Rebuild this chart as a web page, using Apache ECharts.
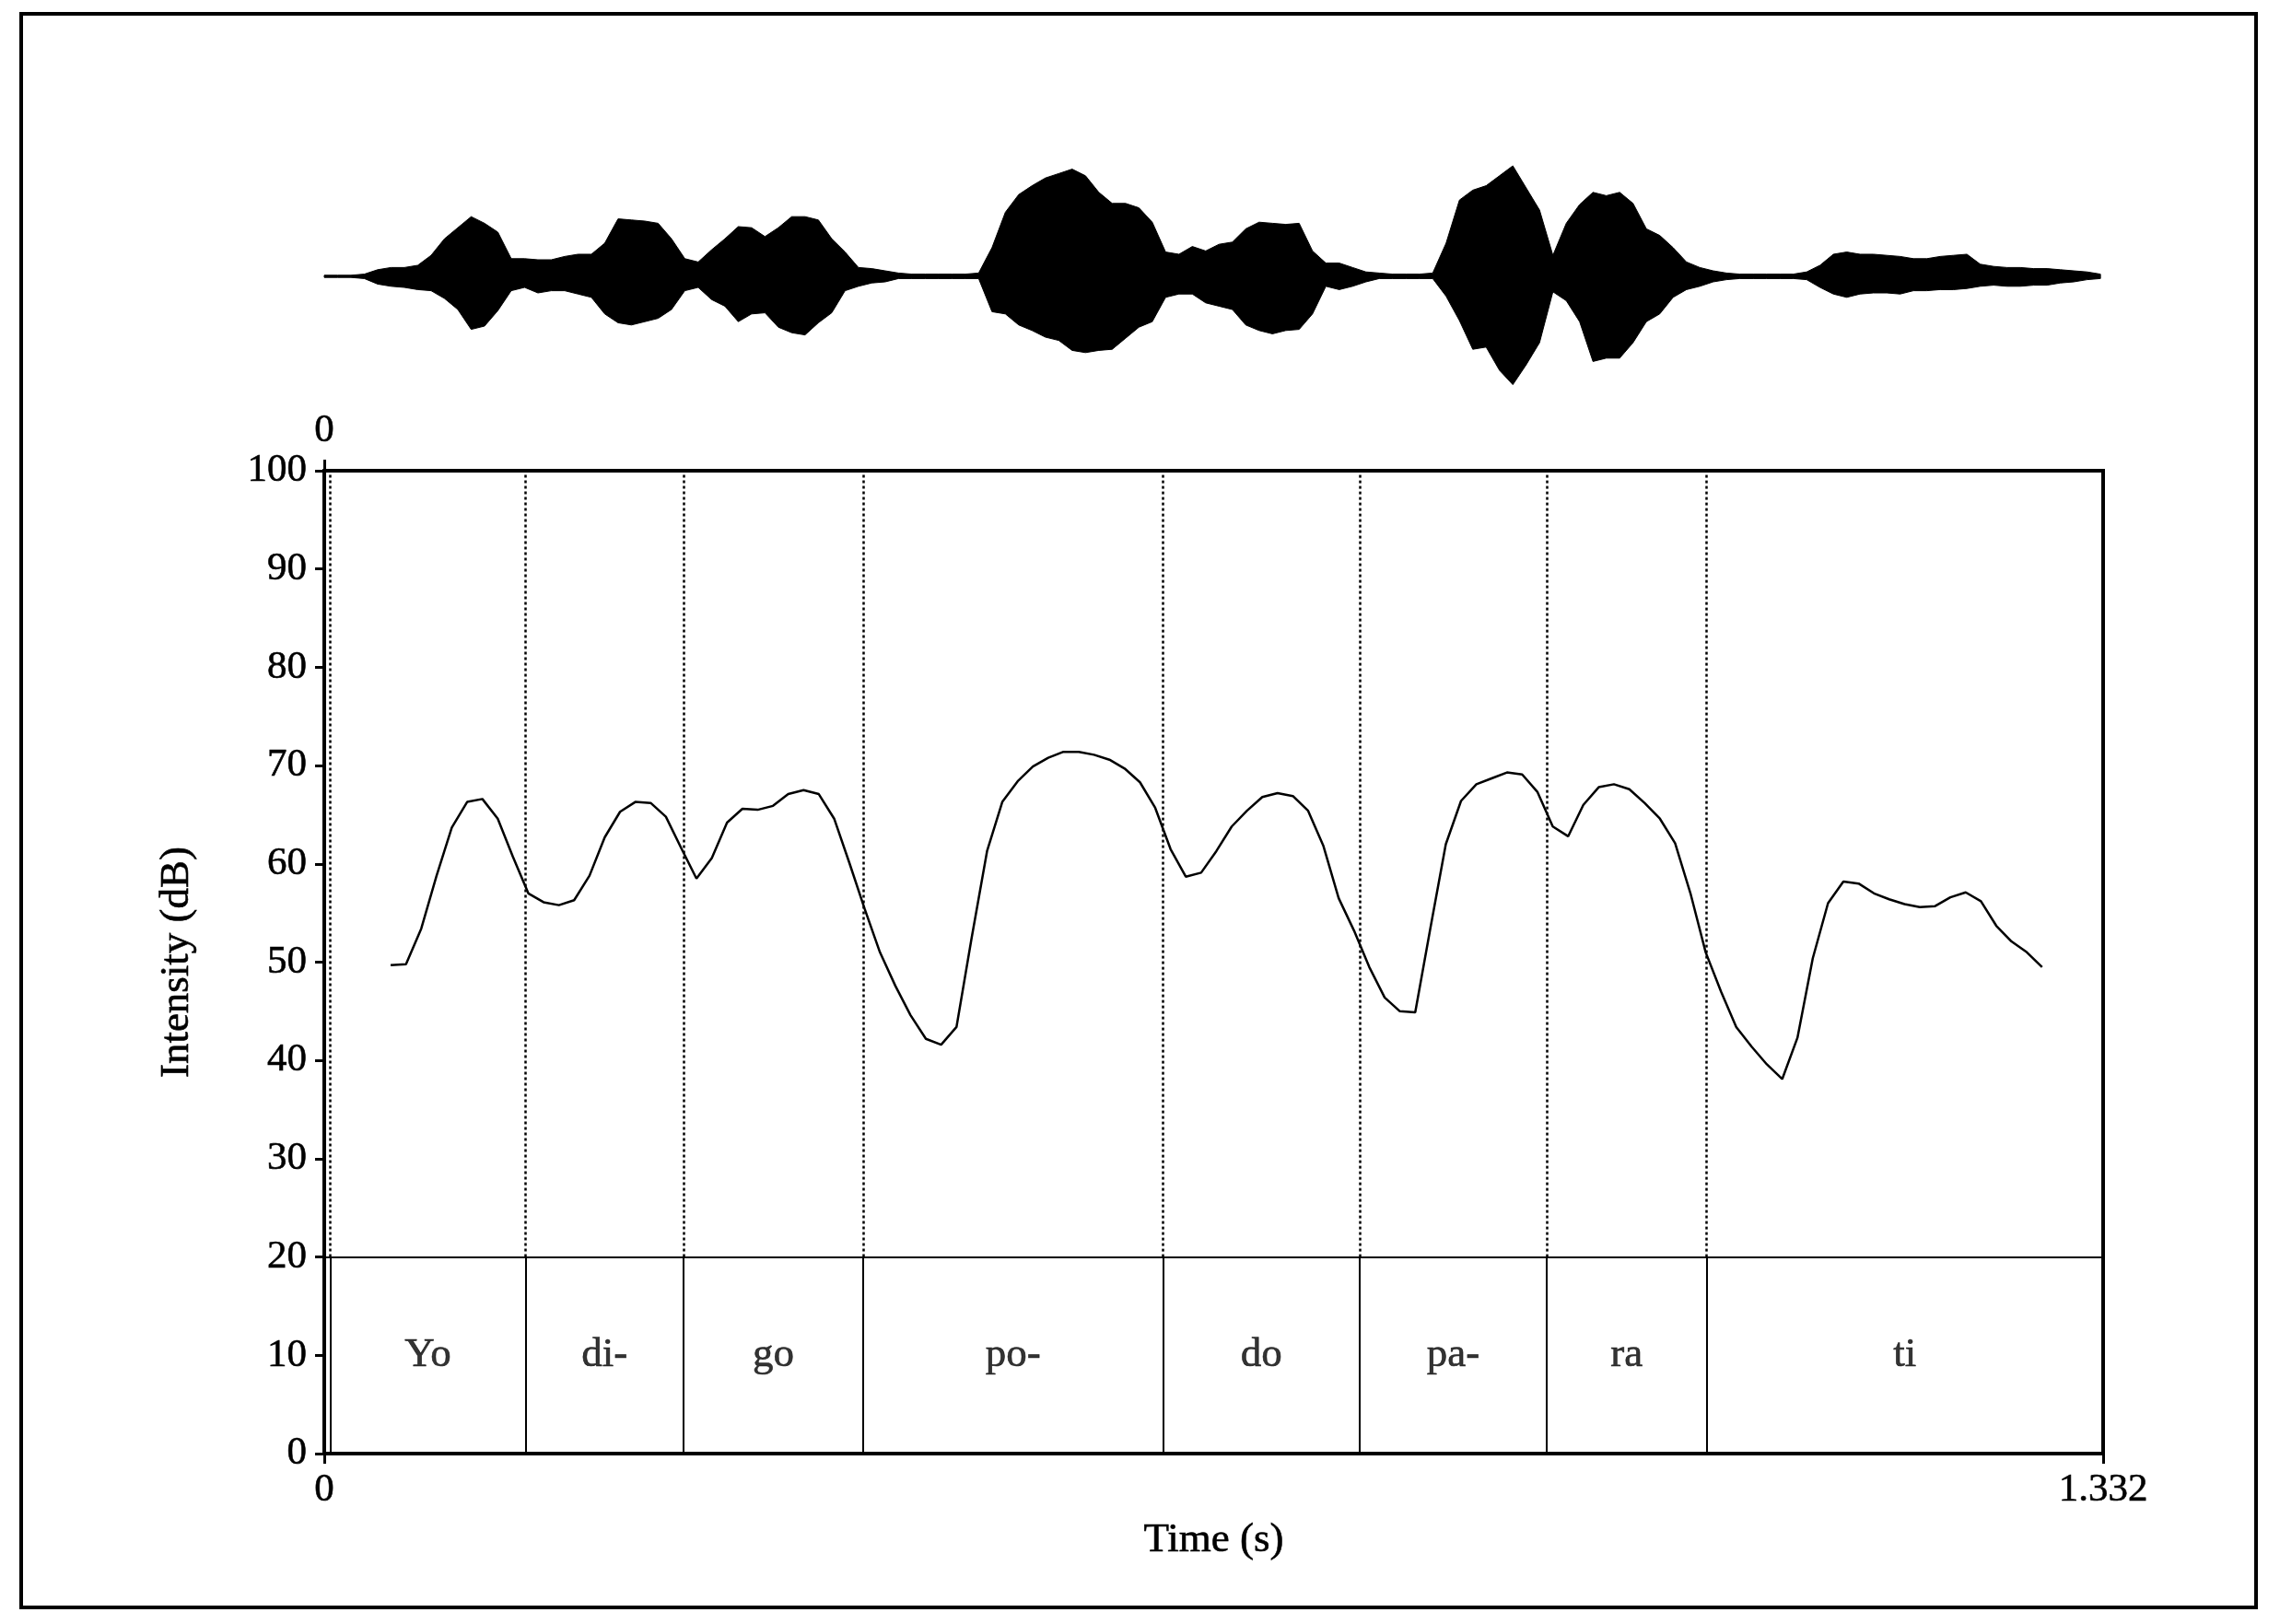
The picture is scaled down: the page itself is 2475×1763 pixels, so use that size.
<!DOCTYPE html>
<html>
<head>
<meta charset="utf-8">
<script src="https://cdn.jsdelivr.net/npm/echarts/dist/echarts.min.js"></script>
<style>
  html, body { margin: 0; padding: 0; background: #fff; }
  #chart { width: 2475px; height: 1763px; }
</style>
</head>
<body>
<div id="chart"></div>
<script>
// waveform envelope (normalised amplitude), one sample every 10 ms
var waveTime = [0.00,0.01,0.02,0.03,0.04,0.05,0.06,0.07,0.08,0.09,0.10,0.11,0.12,0.13,0.14,0.15,0.16,0.17,0.18,0.19,
  0.20,0.21,0.22,0.23,0.24,0.25,0.26,0.27,0.28,0.29,0.30,0.31,0.32,0.33,0.34,0.35,0.36,0.37,0.38,0.39,
  0.40,0.41,0.42,0.43,0.44,0.45,0.46,0.47,0.48,0.49,0.50,0.51,0.52,0.53,0.54,0.55,0.56,0.57,0.58,0.59,
  0.60,0.61,0.62,0.63,0.64,0.65,0.66,0.67,0.68,0.69,0.70,0.71,0.72,0.73,0.74,0.75,0.76,0.77,0.78,0.79,
  0.80,0.81,0.82,0.83,0.84,0.85,0.86,0.87,0.88,0.89,0.90,0.91,0.92,0.93,0.94,0.95,0.96,0.97,0.98,0.99,
  1.00,1.01,1.02,1.03,1.04,1.05,1.06,1.07,1.08,1.09,1.10,1.11,1.12,1.13,1.14,1.15,1.16,1.17,1.18,1.19,
  1.20,1.21,1.22,1.23,1.24,1.25,1.26,1.27,1.28,1.29,1.30,1.31,1.32,1.33]
var waveTop = [0.01,0.01,0.01,0.02,0.06,0.08,0.08,0.10,0.19,0.34,0.44,0.54,0.48,0.40,0.16,0.16,0.15,0.15,0.18,0.20,
  0.20,0.30,0.52,0.51,0.50,0.48,0.34,0.16,0.13,0.24,0.34,0.45,0.44,0.36,0.44,0.54,0.54,0.51,0.34,0.22,
  0.08,0.07,0.05,0.03,0.02,0.02,0.02,0.02,0.02,0.03,0.26,0.58,0.74,0.82,0.89,0.93,0.97,0.91,0.76,0.66,
  0.66,0.62,0.49,0.22,0.20,0.27,0.23,0.29,0.31,0.43,0.49,0.48,0.47,0.48,0.23,0.12,0.12,0.08,0.04,0.03,
  0.02,0.02,0.02,0.03,0.30,0.69,0.78,0.82,0.91,1.00,0.80,0.60,0.19,0.48,0.65,0.76,0.73,0.76,0.66,0.43,
  0.37,0.26,0.13,0.08,0.05,0.03,0.02,0.02,0.02,0.02,0.02,0.04,0.10,0.20,0.22,0.20,0.20,0.19,0.18,0.16,
  0.16,0.18,0.19,0.20,0.11,0.09,0.08,0.08,0.07,0.07,0.06,0.05,0.04,0.02]
var waveBottom = [-0.01,-0.01,-0.01,-0.02,-0.07,-0.09,-0.10,-0.12,-0.13,-0.20,-0.30,-0.48,-0.45,-0.31,-0.13,-0.10,-0.15,-0.13,-0.13,-0.16,
  -0.19,-0.34,-0.42,-0.44,-0.41,-0.38,-0.30,-0.13,-0.10,-0.21,-0.27,-0.41,-0.34,-0.33,-0.46,-0.51,-0.53,-0.42,-0.33,-0.13,
  -0.09,-0.06,-0.05,-0.02,-0.02,-0.02,-0.02,-0.02,-0.02,-0.02,-0.32,-0.34,-0.44,-0.49,-0.55,-0.58,-0.67,-0.69,-0.67,-0.66,
  -0.56,-0.46,-0.41,-0.19,-0.16,-0.16,-0.24,-0.27,-0.30,-0.44,-0.49,-0.52,-0.49,-0.48,-0.34,-0.09,-0.12,-0.09,-0.05,-0.02,
  -0.02,-0.02,-0.02,-0.02,-0.18,-0.40,-0.66,-0.64,-0.85,-0.98,-0.80,-0.60,-0.14,-0.22,-0.41,-0.77,-0.74,-0.74,-0.60,-0.41,
  -0.34,-0.19,-0.12,-0.09,-0.05,-0.03,-0.02,-0.02,-0.02,-0.02,-0.02,-0.03,-0.10,-0.16,-0.19,-0.16,-0.15,-0.15,-0.16,-0.13,
  -0.13,-0.12,-0.12,-0.11,-0.09,-0.08,-0.09,-0.09,-0.08,-0.08,-0.06,-0.05,-0.03,-0.02]

// intensity contour [time (s), dB]
var intensity = [[0.0497,49.7],[0.0612,49.8],[0.0726,53.4],[0.0841,58.8],[0.0955,63.7],[0.1070,66.3],[0.1184,66.6],
  [0.1299,64.6],[0.1413,60.7],[0.1528,57.0],[0.1642,56.1],[0.1757,55.8],[0.1871,56.3],[0.1986,58.8],[0.2100,62.7],
  [0.2215,65.3],[0.2329,66.3],[0.2444,66.2],[0.2558,64.8],[0.2673,61.6],[0.2787,58.5],[0.2902,60.6],[0.3016,64.2],
  [0.3131,65.6],[0.3245,65.5],[0.3360,65.9],[0.3474,67.1],[0.3589,67.5],[0.3703,67.1],[0.3818,64.6],[0.3932,60.1],
  [0.4047,55.4],[0.4161,51.0],[0.4276,47.6],[0.4390,44.6],[0.4505,42.2],[0.4619,41.6],[0.4734,43.4],[0.4848,52.5],
  [0.4963,61.3],[0.5077,66.3],[0.5192,68.4],[0.5306,69.9],[0.5421,70.8],[0.5535,71.4],[0.5650,71.4],[0.5764,71.1],
  [0.5879,70.6],[0.5993,69.7],[0.6108,68.3],[0.6222,65.7],[0.6337,61.5],[0.6451,58.7],[0.6566,59.1],[0.6680,61.3],
  [0.6795,63.8],[0.6909,65.4],[0.7024,66.8],[0.7138,67.2],[0.7253,66.9],[0.7367,65.4],[0.7482,61.8],[0.7596,56.5],
  [0.7711,53.2],[0.7825,49.5],[0.7940,46.4],[0.8054,45.0],[0.8169,44.9],[0.8283,53.5],[0.8398,62.0],[0.8512,66.4],
  [0.8627,68.1],[0.8741,68.7],[0.8856,69.3],[0.8970,69.1],[0.9085,67.3],[0.9199,63.8],[0.9314,62.8],[0.9428,66.0],
  [0.9543,67.8],[0.9657,68.1],[0.9772,67.6],[0.9886,66.2],[1.0001,64.6],[1.0115,62.1],[1.0230,57.0],[1.0344,51.0],
  [1.0459,47.0],[1.0573,43.4],[1.0688,41.4],[1.0802,39.6],[1.0917,38.1],[1.1031,42.3],[1.1146,50.4],[1.1260,56.0],
  [1.1375,58.2],[1.1489,58.0],[1.1604,57.0],[1.1718,56.4],[1.1833,55.9],[1.1947,55.6],[1.2062,55.7],[1.2176,56.6],
  [1.2291,57.1],[1.2405,56.2],[1.2520,53.7],[1.2634,52.1],[1.2749,51.0],[1.2863,49.5]]

// syllable tier
var boundaries = [0.0046, 0.1507, 0.2690, 0.4035, 0.6281, 0.7753, 0.9153, 1.0351, 1.332]
var syllables = ['Yo', 'di-', 'go', 'po-', 'do', 'pa-', 'ra', 'ti']

var tEnd = 1.332
var yTicks = [0, 100, 10]  // min, max, step
var tierTop = 20
var tierMid = 10

var FONT = '"Liberation Serif", "Times New Roman", serif'

var chart = echarts.init(document.getElementById('chart'), null, { renderer: 'canvas' })

var sylData = syllables.map(function (s, i) {
  return [(boundaries[i] + boundaries[i + 1]) / 2, tierMid, s]
})

var dotted = boundaries.slice(0, -1).map(function (b) {
  return [{ coord: [b, tierTop] }, { coord: [b, yTicks[1]] }]
})
var solid = boundaries.slice(0, -1).map(function (b) {
  return [{ coord: [b, 0] }, { coord: [b, tierTop] }]
})
solid.push([{ coord: [0, tierTop] }, { coord: [tEnd, tierTop] }])

// slightly heavier text, the original is a hard black raster
var ink = { color: '#000', textBorderColor: '#000', textBorderWidth: 0.6 }
var labelStyle = Object.assign({ fontFamily: FONT, fontSize: 43 }, ink)
var nameStyle = Object.assign({ fontFamily: FONT, fontSize: 45 }, ink)

var option = {
  animation: false,
  backgroundColor: '#fff',
  graphic: [{
    type: 'rect',
    shape: { x: 23, y: 15, width: 2426, height: 1730 },
    style: { fill: 'none', stroke: '#000', lineWidth: 4 }
  }],
  grid: [
    { left: 352, right: 192, top: 180, height: 240 },
    { left: 352, right: 192, top: 511, bottom: 185, show: true, borderColor: '#000', borderWidth: 4 }
  ],
  xAxis: [
    { gridIndex: 0, type: 'value', min: 0, max: tEnd, show: false },
    {
      gridIndex: 1, type: 'value', min: 0, max: tEnd, position: 'bottom',
      axisLine: { lineStyle: { color: '#000', width: 4 } },
      axisTick: { length: 11, lineStyle: { color: '#000', width: 3 }, customValues: [0, tEnd] },
      axisLabel: Object.assign({ margin: 18, customValues: [0, tEnd] }, labelStyle),
      splitLine: { show: false },
      name: 'Time (s)', nameLocation: 'middle', nameGap: 72,
      nameTextStyle: nameStyle
    },
    {
      gridIndex: 1, type: 'value', min: 0, max: tEnd, position: 'top',
      axisLine: { show: false },
      axisTick: { length: 12, lineStyle: { color: '#000', width: 3 }, customValues: [0] },
      axisLabel: Object.assign({ margin: 22, customValues: [0] }, labelStyle),
      splitLine: { show: false }
    }
  ],
  yAxis: [
    { gridIndex: 0, type: 'value', min: -1, max: 1, show: false },
    {
      gridIndex: 1, type: 'value', min: yTicks[0], max: yTicks[1], interval: yTicks[2],
      axisLine: { show: true, lineStyle: { color: '#000', width: 4 } },
      axisTick: { show: true, length: 10, lineStyle: { color: '#000', width: 3 } },
      axisLabel: Object.assign({ margin: 19 }, labelStyle),
      splitLine: { show: false },
      name: 'Intensity (dB)', nameLocation: 'middle', nameGap: 137,
      nameTextStyle: nameStyle
    }
  ],
  series: [
    {
      // waveform drawn as a filled envelope
      type: 'custom',
      xAxisIndex: 0, yAxisIndex: 0,
      data: [[0, 0]],
      silent: true,
      renderItem: function (params, api) {
        var pts = []
        for (var i = 0; i < waveTime.length; i++) pts.push(api.coord([waveTime[i], waveTop[i]]))
        for (var j = waveTime.length - 1; j >= 0; j--) pts.push(api.coord([waveTime[j], waveBottom[j]]))
        return {
          type: 'polygon',
          shape: { points: pts },
          style: { fill: '#000', stroke: '#000', lineWidth: 1 }
        }
      }
    },
    {
      type: 'line',
      xAxisIndex: 1, yAxisIndex: 1,
      data: intensity,
      showSymbol: false,
      lineStyle: { color: '#000', width: 2.5 },
      markLine: {
        silent: true, symbol: ['none', 'none'], label: { show: false },
        lineStyle: { color: '#000', width: 2.5, type: [3, 3] },
        data: dotted
      }
    },
    {
      type: 'scatter',
      xAxisIndex: 1, yAxisIndex: 1,
      data: sylData,
      symbolSize: 0,
      silent: true,
      label: Object.assign({
        show: true, position: 'inside',
        formatter: function (p) { return p.value[2] }
      }, nameStyle),
      markLine: {
        silent: true, symbol: ['none', 'none'], label: { show: false },
        lineStyle: { color: '#000', width: 2, type: 'solid' },
        data: solid
      }
    }
  ]
}

chart.setOption(option)
</script>
</body>
</html>
